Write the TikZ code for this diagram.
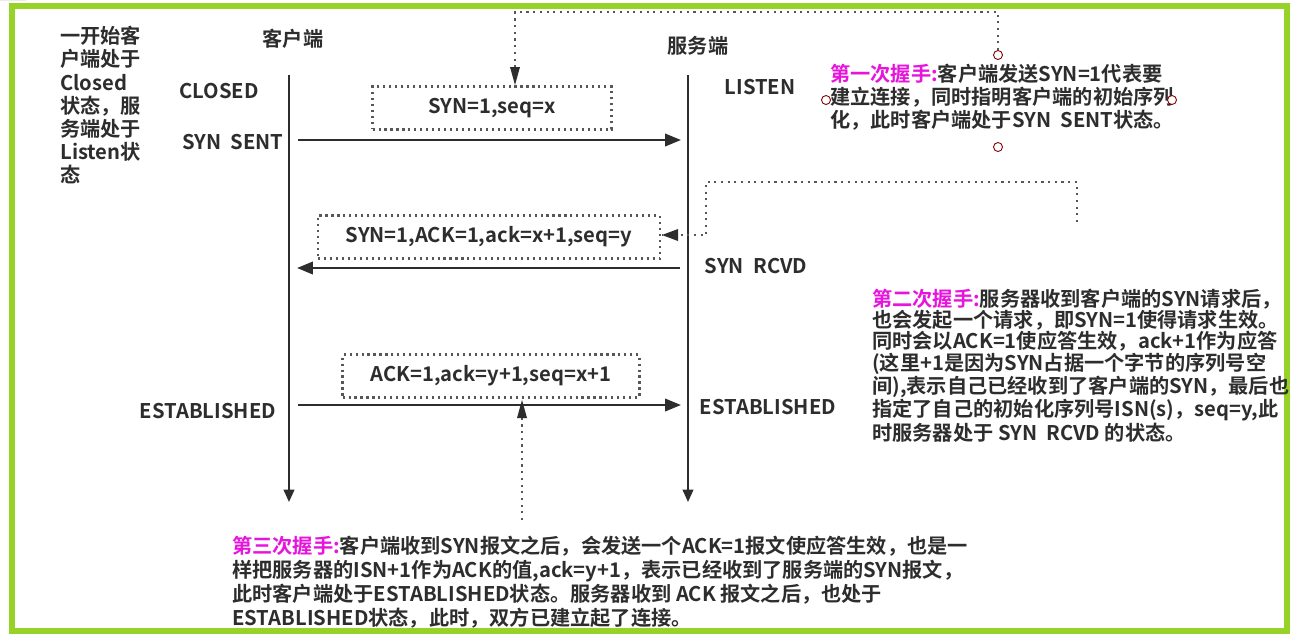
\documentclass[tikz,border=0pt]{standalone}
\usepackage{fontspec}
\setmainfont{Noto Sans CJK SC}[BoldFont={Noto Sans CJK SC Bold}]
\usetikzlibrary{arrows.meta}
\definecolor{grn}{RGB}{150,210,40}
\definecolor{mag}{RGB}{230,20,220}
\definecolor{txt}{RGB}{45,45,45}
\begin{document}
\begin{tikzpicture}[x=0.02cm,y=-0.02cm,
  lbl/.style={font=\bfseries\fontsize{11.5}{13}\selectfont,text=txt,inner sep=0pt},
  msg/.style={draw=txt!80,line width=1.6pt,dash pattern=on 1.2pt off 2.2pt,minimum height=0.85cm,inner sep=4pt,lbl},
  life/.style={draw=txt,line width=1.2pt,-{Triangle[length=7pt,width=6pt]}},
  ar/.style={draw=txt,line width=1.4pt,-{Triangle[length=9pt,width=7pt]}},
  dot/.style={draw=txt!80,line width=1.6pt,dash pattern=on 1.2pt off 2.6pt},
  hnd/.style={draw=red!50!black,line width=0.5pt,fill=white}]
\useasboundingbox (0,0) rectangle (1295,637);
\fill[white] (0,0) rectangle (1295,637);
\draw[black!8,line width=0.5pt,step=0.44cm] (0,0) grid (25.9,-12.74);
\draw[grn,line width=3pt] (12,6) rectangle (1287,631);
% lifelines
\coordinate (c0) at (289,75); \coordinate (c1) at (289,502);
\coordinate (s0) at (688,75); \coordinate (s1) at (688,502);
\draw[life] (c0) -- (c1);
\draw[life] (s0) -- (s1);
% labels
\node[lbl,align=left,anchor=north west,font=\bfseries\fontsize{11.5}{13.2}\selectfont] (init) at (60,26)
 {一开始客\\户端处于\\Closed\\状态，服\\务端处于\\Listen状\\态};
\node[lbl] (cli) at (293,39) {客户端};
\node[lbl] (srv) at (698,46) {服务端};
\node[lbl] (closed) at (219,91) {CLOSED};
\node[lbl] (sent) at (233,142) {SYN\ \ SENT};
\node[lbl] (listen) at (760,87) {LISTEN};
\node[lbl] (rcvd) at (756,266) {SYN\ \ RCVD};
\node[lbl] (estc) at (208,411) {ESTABLISHED};
\node[lbl] (ests) at (768,407) {ESTABLISHED};
% messages
\coordinate (a1s) at (298,140); \coordinate (a1e) at (681,140);
\coordinate (a2s) at (680,268); \coordinate (a2e) at (297,268);
\coordinate (a3s) at (298,405); \coordinate (a3e) at (681,405);
\draw[ar] (a1s) -- (a1e);
\draw[ar] (a2s) -- (a2e);
\draw[ar] (a3s) -- (a3e);
\node[msg,minimum width=4.78cm] (m1) at (492,108) {SYN=1,seq=x};
\node[msg,minimum width=6.84cm] (m2) at (489,237) {SYN=1,ACK=1,ack=x+1,seq=y};
\node[msg,minimum width=5.94cm] (m3) at (491,376) {ACK=1,ack=y+1,seq=x+1};
% notes
\node[lbl,anchor=north west,align=left] (n1) at (830,64)
 {\textcolor{mag}{第一次握手:}客户端发送SYN=1代表要\\建立连接，同时指明客户端的初始序列\\化，此时客户端处于SYN\ \ SENT状态。};
\node[lbl,anchor=north west,align=left,font=\bfseries\fontsize{11.5}{12}\selectfont] (n2) at (872,289)
 {\textcolor{mag}{第二次握手:}服务器收到客户端的SYN请求后，\\也会发起一个请求，即SYN=1使得请求生效。\\同时会以ACK=1使应答生效，ack+1作为应答\\(这里+1是因为SYN占据一个字节的序列号空\\间),表示自己已经收到了客户端的SYN，最后也\\指定了自己的初始化序列号ISN(s)，seq=y,此\\时服务器处于 SYN\ \ RCVD 的状态。};
\node[lbl,anchor=north west,align=left,font=\bfseries\fontsize{11.5}{13.6}\selectfont] (n3) at (232,536)
 {\textcolor{mag}{第三次握手:}客户端收到SYN报文之后，会发送一个ACK=1报文使应答生效，也是一\\样把服务器的ISN+1作为ACK的值,ack=y+1，表示已经收到了服务端的SYN报文，\\此时客户端处于ESTABLISHED状态。服务器收到 ACK 报文之后，也处于\\ESTABLISHED状态，此时，双方已建立起了连接。};
% dotted pointers
\coordinate (p1a) at (998,50); \coordinate (p1b) at (998,12);
\coordinate (p1c) at (515,12); \coordinate (p1d) at (515,85);
\draw[dot] (p1a) -- (p1b) -- (p1c) -- (p1d);
\fill[txt] (p1d) -- ++(-5,-18) -- ++(10,0) -- cycle;
\coordinate (p2a) at (1077,222); \coordinate (p2b) at (1077,182);
\coordinate (p2c) at (706,182); \coordinate (p2d) at (706,235);
\coordinate (p2e) at (662,235);
\draw[dot] (p2a) -- (p2b) -- (p2c) -- (p2d) -- (p2e);
\fill[txt] (p2e) -- ++(16,-6) -- ++(0,12) -- cycle;
\coordinate (p3a) at (522,520); \coordinate (p3b) at (522,400);
\draw[dot] (p3a) -- (p3b);
\fill[txt] (p3b) -- ++(-5,18) -- ++(10,0) -- cycle;
% handles
\foreach \p in {(998,55),(826,100),(1172,100),(998,147)}
  \draw[hnd] \p circle (4.5);
\end{tikzpicture}
\end{document}
